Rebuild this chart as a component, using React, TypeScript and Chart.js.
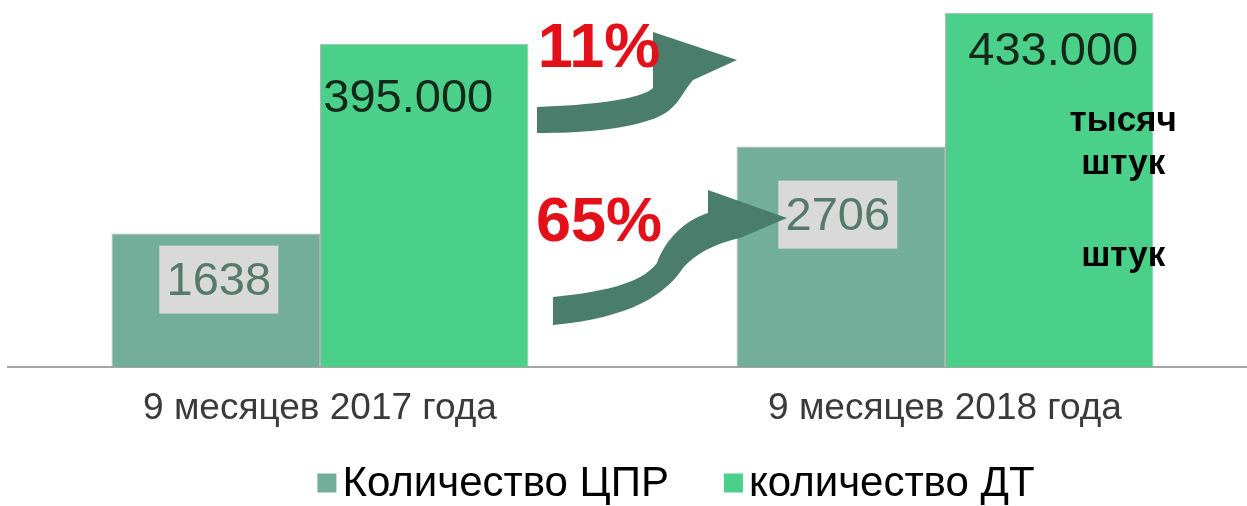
import React, { useEffect, useRef } from "react";
import { Chart, registerables } from "chart.js";

Chart.register(...registerables);

const categories = ["9 месяцев 2017 года", "9 месяцев 2018 года"];
const seriesNames = ["Количество ЦПР", "количество ДТ"];
const cprValues = [1638, 2706];
const dtValues = [395000, 433000];
const dtLabels = ["395.000", "433.000"];
const growthLabels = ["11%", "65%"];
const unitLabels = ["тысяч", "штук", "штук"];

const CPR_COLOR = "#72ae99";
const DT_COLOR = "#4bd08a";
const ARROW_COLOR = "#4a7d6b";
const FONT = '"Liberation Sans", Arial, sans-serif';

// label offsets (styling only)
const cprDx = [3, -3];
const cprDy = [46, 68];
const dtDx = [-16, 4];
const dtDy = [55, 39];

const overlayPlugin = {
  id: "overlay",
  afterDatasetsDraw(chart: any) {
    const ctx = chart.ctx;
    const m0 = chart.getDatasetMeta(0);
    const m1 = chart.getDatasetMeta(1);
    ctx.save();
    ctx.textAlign = "center";
    ctx.textBaseline = "middle";
    // CPR labels in grey boxes
    m0.data.forEach((bar: any, i: number) => {
      const cx = bar.x + cprDx[i];
      const cy = bar.y + cprDy[i];
      ctx.fillStyle = "#d9d9d9";
      ctx.fillRect(cx - 59.5, cy - 34, 119, 68);
      ctx.fillStyle = "#557a6c";
      ctx.font = `47px ${FONT}`;
      ctx.fillText(String(cprValues[i]), cx, cy + 2);
    });
    // DT labels
    m1.data.forEach((bar: any, i: number) => {
      ctx.fillStyle = "#14281a";
      ctx.font = `47px ${FONT}`;
      ctx.fillText(dtLabels[i], bar.x + dtDx[i], bar.y + dtDy[i]);
    });
    // unit labels next to second DT bar
    const b = m1.data[1];
    ctx.fillStyle = "#000";
    ctx.font = `bold 35px ${FONT}`;
    const ux = b.x + 74;
    ctx.fillText(unitLabels[0], ux, 121);
    ctx.fillText(unitLabels[1], ux, 164);
    ctx.fillText(unitLabels[2], ux, 256);

    // arrows
    ctx.fillStyle = ARROW_COLOR;
    ctx.beginPath();
    ctx.moveTo(537, 107);
    ctx.bezierCurveTo(590, 105, 640, 100, 653, 88);
    ctx.lineTo(653, 32);
    ctx.lineTo(737, 60);
    ctx.lineTo(693, 80);
    ctx.bezierCurveTo(680, 95, 677, 112, 650, 120);
    ctx.bezierCurveTo(620, 130, 580, 133, 537, 133);
    ctx.closePath();
    ctx.fill();

    ctx.beginPath();
    ctx.moveTo(553, 297);
    ctx.bezierCurveTo(600, 292, 640, 285, 657, 263);
    ctx.bezierCurveTo(665, 240, 685, 220, 708, 213);
    ctx.lineTo(708, 190);
    ctx.lineTo(787, 218);
    ctx.lineTo(740, 238);
    ctx.bezierCurveTo(710, 245, 695, 255, 683, 268);
    ctx.bezierCurveTo(665, 295, 630, 318, 553, 325);
    ctx.closePath();
    ctx.fill();

    // growth percentages
    ctx.fillStyle = "#e3101a";
    ctx.font = `bold 63px ${FONT}`;
    ctx.fillText(growthLabels[0], 599, 50);
    ctx.fillText(growthLabels[1], 599, 224);
    ctx.restore();
  },
  afterDraw(chart: any) {
    const ctx = chart.ctx;
    ctx.save();
    ctx.font = `42px ${FONT}`;
    ctx.textBaseline = "middle";
    ctx.textAlign = "left";
    const colors = [CPR_COLOR, DT_COLOR];
    const box = 19;
    const gapText = 6;
    const gapItem = 55;
    const widths = seriesNames.map((s) => box + gapText + ctx.measureText(s).width);
    const total = widths[0] + gapItem + widths[1];
    let x = 676 - total / 2;
    const y = 483;
    seriesNames.forEach((s, i) => {
      ctx.fillStyle = colors[i];
      ctx.fillRect(x, y - box / 2, box, box);
      ctx.fillStyle = "#000";
      ctx.fillText(s, x + box + gapText, y + 1);
      x += widths[i] + gapItem;
    });
    ctx.restore();
  },
};

export default function App() {
  const ref = useRef<HTMLCanvasElement | null>(null);
  useEffect(() => {
    document.body.style.margin = "0";
    document.body.style.overflow = "hidden";
    const chart = new Chart(ref.current!, {
      type: "bar",
      data: {
        labels: categories,
        datasets: [
          {
            label: seriesNames[0],
            data: cprValues,
            yAxisID: "y",
            backgroundColor: CPR_COLOR,
            borderColor: "rgba(170,170,170,0.9)",
            borderWidth: 1,
            borderSkipped: "bottom",
          },
          {
            label: seriesNames[1],
            data: dtValues,
            yAxisID: "y1",
            backgroundColor: DT_COLOR,
            borderColor: "rgba(170,170,170,0.9)",
            borderWidth: 1,
            borderSkipped: "bottom",
          },
        ],
      },
      options: {
        responsive: false,
        animation: false,
        datasets: { bar: { categoryPercentage: 0.667, barPercentage: 1 } },
        layout: { padding: { left: 7.5, right: 4.5, top: 7, bottom: 0 } },
        plugins: { legend: { display: false }, tooltip: { enabled: false } },
        scales: {
          x: {
            offset: true,
            grid: { display: false, drawTicks: false },
            border: { display: true, color: "#a6a6a6", width: 2 },
            ticks: { color: "#3a3a3a", font: { family: FONT, size: 37 }, padding: 20 },
            afterFit: (s: any) => {
              s.height = 139;
            },
          },
          y: { display: false, min: 0, max: 4420 },
          y1: { display: false, min: 0, max: 440000 },
        },
      },
      plugins: [overlayPlugin],
    });
    return () => chart.destroy();
  }, []);
  return (
    <div style={{ position: "fixed", left: 0, top: 0, width: 1262, height: 506 }}>
      <canvas ref={ref} width={1262} height={506} style={{ display: "block" }} />
    </div>
  );
}
